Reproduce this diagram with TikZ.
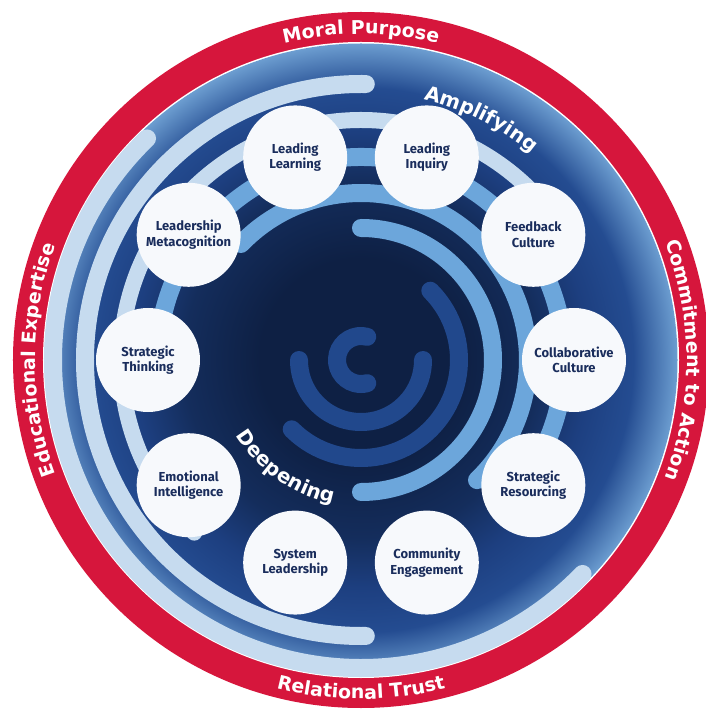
\documentclass[tikz,border=0pt]{standalone}
\usepackage{fontspec}
\setmainfont{Fira Sans}
\newfontfamily\ringfont{DejaVu Sans}
\usetikzlibrary{decorations.text}
\definecolor{ringred}{RGB}{214,22,60}
\definecolor{paleb}{RGB}{198,219,239}
\definecolor{lightb}{RGB}{108,166,219}
\definecolor{darkb}{RGB}{33,72,140}
\definecolor{navytext}{RGB}{26,45,92}
\definecolor{nodefill}{RGB}{247,249,252}
\definecolor{cza}{RGB}{14,32,68}
\definecolor{czb}{RGB}{20,45,92}
\definecolor{czc}{RGB}{29,63,128}
\definecolor{czd}{RGB}{36,76,145}
\definecolor{cze}{RGB}{108,157,208}
\pgfdeclareradialshading{discshade}{\pgfpoint{0bp}{0bp}}{color(0bp)=(cza); color(8bp)=(cza); color(14bp)=(czb); color(18bp)=(czc); color(21.5bp)=(czd); color(25bp)=(cze); color(50bp)=(cze)}
\tikzset{
  band/.style={line width=18pt, line cap=round},
  topic/.style={circle, fill=nodefill, minimum size=104pt, inner sep=0pt, align=center,
    text=navytext, font=\bfseries\fontsize{13}{15.5}\selectfont},
  ringtext/.style={decorate, decoration={text along path, text align=center, text color=white,
    text={|\ringfont\bfseries\fontsize{19}{19}\selectfont|#1}}},
  innertext/.style={decorate, decoration={text along path, text align=center, text color=white,
    text={|\ringfont\bfseries\fontsize{20}{20}\selectfont|#1}}}
}
\begin{document}
\begin{tikzpicture}[x=1pt,y=1pt]
\useasboundingbox (-361,-349) rectangle (344,360);
% outer ring and disc
\fill[ringred] (0,0) circle (348);
\fill[white] (0,0) circle (318);
\shade[shading=discshade] (0,0) circle (316.5);
% pale arcs
\draw[band,paleb] (134:308) arc[start angle=134,end angle=316,radius=308];
\draw[band,paleb] (89:276) arc[start angle=89,end angle=271,radius=276];
\draw[band,paleb,line width=16pt] (226:240) arc[start angle=226,end angle=44,radius=240];
% light blue arcs
\draw[band,lightb] (190:203) arc[start angle=190,end angle=-25,radius=203];
\draw[band,lightb] (136:167) arc[start angle=136,end angle=-46,radius=167];
\draw[band,lightb] (90:132) arc[start angle=90,end angle=-90,radius=132];
% dark arcs
\draw[band,darkb] (45:98) arc[start angle=45,end angle=-135,radius=98];
\draw[band,darkb] (180:62) arc[start angle=180,end angle=360,radius=62];
\draw[band,darkb] (75:24) arc[start angle=75,end angle=285,radius=24];
% ring labels
\path[ringtext={Moral Purpose}] (120:326) arc[start angle=120,end angle=60,radius=326];
\path[ringtext={Commitment to Action}] (40:326) arc[start angle=40,end angle=-40,radius=326];
\path[ringtext={Educational Expertise}] (220:326) arc[start angle=220,end angle=140,radius=326];
\path[ringtext={Relational Trust}] (240:339) arc[start angle=240,end angle=300,radius=339];
% inner labels
\path[innertext={Amplifying}] (100:268) arc[start angle=100,end angle=27,radius=268];
\path[innertext={Deepening}] (200:146) arc[start angle=200,end angle=270,radius=146];
% topic nodes
\node[topic] (LL) at (108:213) {Leading\\Learning};
\node[topic] (LI) at (72:213) {Leading\\Inquiry};
\node[topic] (FC) at (36:213) {Feedback\\Culture};
\node[topic] (CC) at (0:213) {Collaborative\\Culture};
\node[topic] (SR) at (-36:213) {Strategic\\Resourcing};
\node[topic] (CE) at (-72:213) {Community\\Engagement};
\node[topic] (SL) at (-108:213) {System\\Leadership};
\node[topic] (EI) at (-144:213) {Emotional\\Intelligence};
\node[topic] (ST) at (180:213) {Strategic\\Thinking};
\node[topic] (LM) at (144:213) {Leadership\\Metacognition};
\end{tikzpicture}
\end{document}
